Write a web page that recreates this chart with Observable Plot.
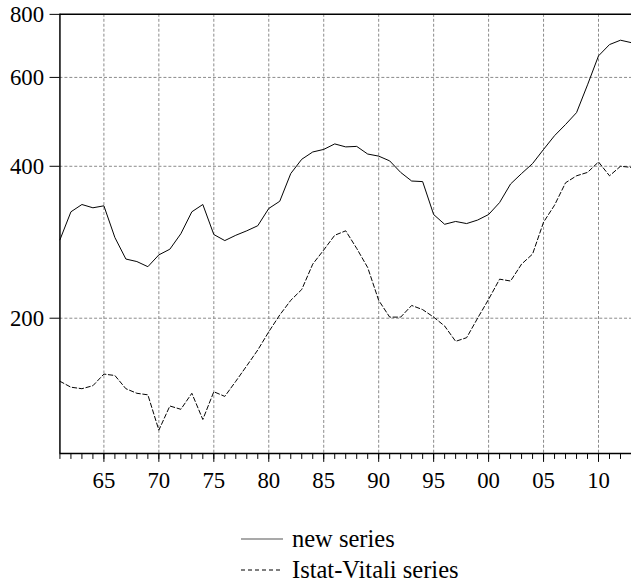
<!DOCTYPE html>
<html>
<head>
<meta charset="utf-8">
<script src="https://cdn.jsdelivr.net/npm/d3@7"></script>
<script src="https://cdn.jsdelivr.net/npm/@observablehq/plot@0.6"></script>
<style>
  html, body { margin: 0; padding: 0; background: white; overflow: hidden; width: 631px; height: 584px; }
  #chart svg { display: block; }
  #legend { margin-left: 241px; font-family: "Liberation Serif", "Times New Roman", serif; font-size: 24.5px; color: black; margin-top: 28px; }
  .row { display: flex; align-items: center; height: 31px; }
  .row svg { display: block; margin-right: 9px; }
</style>
</head>
<body>
<div id="chart"></div>
<div id="legend"></div>
<script>
const years = d3.range(1961, 2014);
const majorYears = [1965, 1970, 1975, 1980, 1985, 1990, 1995, 2000, 2005, 2010];
const yTicks = [200, 400, 600, 800];
const gridY = [200, 400, 600];
const seriesNames = ["new series", "Istat-Vitali series"];

const newSeries = [
  286, 325, 336, 331, 334, 289, 262, 259, 253, 267,
  274, 294, 325, 336, 293, 285, 292, 298, 305, 330,
  341, 387, 413, 427, 432, 443, 437, 438, 423, 419,
  410, 389, 374, 373, 321, 307, 311, 308, 313, 321,
  339, 369, 387, 405, 432, 460, 484, 511, 580, 662,
  697, 711, 703
];
const istatVitali = [
  150, 146, 145, 147, 155, 154, 145, 142, 141, 120,
  134, 132, 142, 126, 143, 140, 150, 161, 173, 188,
  203, 217, 228, 256, 273, 292, 298, 275, 252, 217,
  201, 201, 212, 208, 201, 193, 180, 183, 200, 218,
  239, 237, 256, 268, 310, 335, 371, 383, 389, 408,
  383, 400, 398
];

const yMin = 107.9, yMax = 800;
const rows = years.map((y, i) => ({year: y, a: newSeries[i], b: istatVitali[i]}));
const gridStyle = {stroke: "#8a8a8a", strokeWidth: 1, strokeDasharray: "3,2"};
const fmt = d => String(d % 100).padStart(2, "0");

const chart = Plot.plot({
  width: 637,
  height: 500,
  marginLeft: 60,
  marginRight: 0,
  marginTop: 14,
  marginBottom: 42.7,
  x: {domain: [1961, 2013], label: null},
  y: {type: "log", domain: [yMin, yMax], label: null},
  style: {fontFamily: "'Liberation Serif', 'Times New Roman', serif", fontSize: "23px", color: "black", background: "white", overflow: "visible"},
  marks: [
    Plot.ruleX(majorYears, gridStyle),
    Plot.ruleY(gridY, gridStyle),
    Plot.line(rows, {x: "year", y: "a", stroke: "black", strokeWidth: 1}),
    Plot.line(rows, {x: "year", y: "b", stroke: "black", strokeWidth: 1, strokeDasharray: "4.5,2.5"}),
    Plot.ruleY([yMax], {stroke: "black", strokeWidth: 1.5}),
    Plot.ruleX([1961], {stroke: "black", strokeWidth: 1.5}),
    Plot.ruleY([yMin], {stroke: "black", strokeWidth: 1.5}),
    Plot.axisY({ticks: yTicks, tickSize: 10, tickPadding: 6, label: null, tickFormat: d => String(d)}),
    Plot.axisX({ticks: years, tickSize: 6, label: null, tickFormat: () => ""}),
    Plot.axisX({ticks: majorYears, tickSize: 9, tickPadding: 10, label: null, tickFormat: fmt})
  ]
});
document.getElementById("chart").appendChild(chart);

const legend = document.getElementById("legend");
seriesNames.forEach((name, i) => {
  const row = document.createElement("div");
  row.className = "row";
  const dash = i === 0 ? "" : ' stroke-dasharray="4,3"';
  row.innerHTML = `<svg width="42" height="4"><line x1="0" y1="2" x2="42" y2="2" stroke="${i === 0 ? "#555" : "black"}" stroke-width="1.2"${dash}/></svg><span>${name}</span>`;
  legend.appendChild(row);
});
</script>
</body>
</html>
